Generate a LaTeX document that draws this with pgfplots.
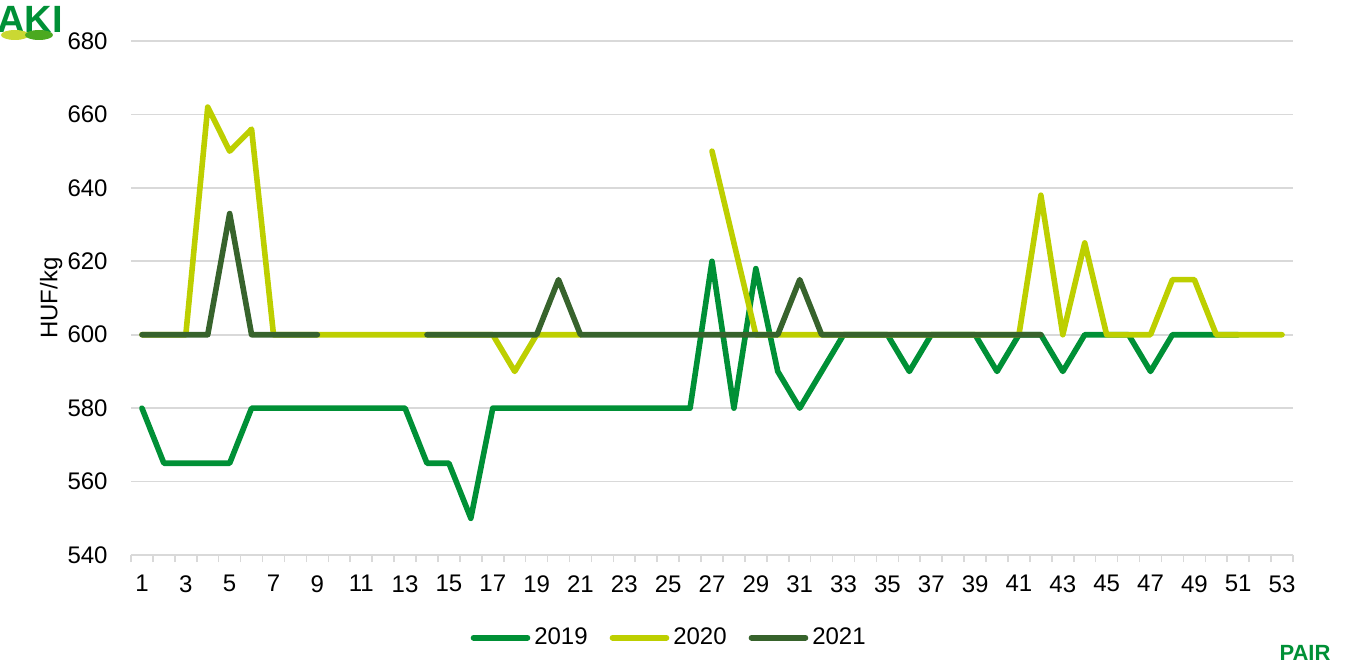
\documentclass[border=0pt]{standalone}
\usepackage{fontspec}
\setmainfont{Liberation Sans}
\usepackage{pgfplots}
\pgfplotsset{compat=1.18}
\definecolor{c2019}{HTML}{009036}
\definecolor{c2020}{HTML}{BDCF00}
\definecolor{c2021}{HTML}{37632C}
\definecolor{gridgray}{HTML}{D9D9D9}
\begin{document}
\begin{tikzpicture}
\begin{axis}[
  scale only axis,
  width=581pt, height=257pt,
  xmin=0.5, xmax=53.5,
  ymin=540, ymax=680,
  xtick={1,3,...,53},
  minor xtick={0.5,1.5,...,53.5},
  major tick length=0pt,
  minor tick length=3.5pt,
  tick align=outside,
  xtick pos=bottom,
  ytick={540,560,...,680},
  ytick style={draw=none},
  minor tick style={draw=gridgray, line width=0.8pt},
  axis x line*=bottom,
  axis y line*=left,
  x axis line style={draw=gridgray, line width=0.8pt, -},
  y axis line style={draw=none},
  ymajorgrids=true,
  grid style={draw=gridgray, line width=0.8pt},
  font=\fontsize{12}{14}\selectfont,
  /pgf/number format/assume math mode=true,
  xticklabel style={inner sep=0pt, anchor=north, yshift=-10pt},
  yticklabel style={inner sep=0pt, anchor=east, xshift=-11.5pt},
  ylabel={HUF/kg},
  ylabel style={at={(axis description cs:-0.0688,0.5)}, anchor=center},
  unbounded coords=jump,
  every axis plot/.append style={line width=2.8pt, line join=round, line cap=round, mark=none},
  legend columns=3,
  legend style={at={(0.464,-0.161)}, anchor=center, draw=none, fill=none,
    font=\fontsize{12}{14}\selectfont,
    /tikz/every even column/.append style={column sep=9pt}},
  legend image code/.code={\draw[#1, line cap=round] (0pt,0pt) -- (27pt,0pt);},
]
\addplot[c2019] coordinates {
(1,580)(2,565)(3,565)(4,565)(5,565)(6,580)(7,580)(8,580)(9,580)(10,580)
(11,580)(12,580)(13,580)(14,565)(15,565)(16,550)(17,580)(18,580)(19,580)(20,580)
(21,580)(22,580)(23,580)(24,580)(25,580)(26,580)(27,620)(28,580)(29,618)(30,590)
(31,580)(32,590)(33,600)(34,600)(35,600)(36,590)(37,600)(38,600)(39,600)(40,590)
(41,600)(42,600)(43,590)(44,600)(45,600)(46,600)(47,590)(48,600)(49,600)(50,600)
(51,600)
};
\addplot[c2020] coordinates {
(1,600)(2,600)(3,600)(4,662)(5,650)(6,656)(7,600)(8,600)(9,600)(10,600)
(11,600)(12,600)(13,600)(14,600)(15,600)(16,600)(17,600)(18,590)(19,600)(20,600)
(21,600)(22,nan)(23,nan)(24,nan)(25,nan)(26,nan)(27,650)(28,625)(29,600)(30,600)
(31,600)(32,600)(33,600)(34,600)(35,600)(36,600)(37,600)(38,600)(39,600)(40,600)
(41,600)(42,638)(43,600)(44,625)(45,600)(46,600)(47,600)(48,615)(49,615)(50,600)
(51,600)(52,600)(53,600)
};
\addplot[c2021] coordinates {
(1,600)(2,600)(3,600)(4,600)(5,633)(6,600)(7,600)(8,600)(9,600)(10,nan)
(11,nan)(12,nan)(13,nan)(14,600)(15,600)(16,600)(17,600)(18,600)(19,600)(20,615)
(21,600)(22,600)(23,600)(24,600)(25,600)(26,600)(27,600)(28,600)(29,600)(30,600)
(31,615)(32,600)(33,600)(34,600)(35,600)(36,600)(37,600)(38,600)(39,600)(40,600)
(41,600)(42,600)
};
\legend{2019,2020,2021}
\end{axis}
% logos
\node[text=c2019, font=\bfseries\fontsize{19}{19}\selectfont, inner sep=0pt] at (-50.5pt,268pt) {AKI};
\fill[c2020!80!white] (-58pt,260pt) ellipse (7pt and 2.5pt);
\fill[c2019!60!c2020] (-46pt,260pt) ellipse (7pt and 2.5pt);
\node[text=c2019, font=\bfseries\fontsize{11}{11}\selectfont, inner sep=0pt] at (587pt,-49pt) {PAIR};
\pgfresetboundingbox
\useasboundingbox (-65.5pt,-57.5pt) rectangle (608pt,277.5pt);
\end{tikzpicture}
\end{document}
